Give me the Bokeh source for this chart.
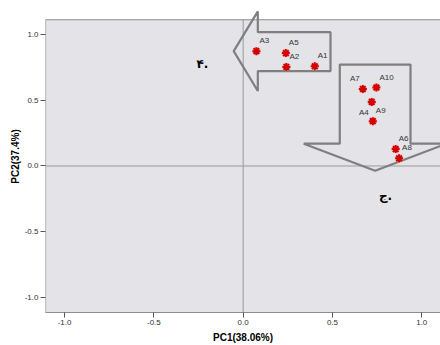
from bokeh.plotting import figure
from bokeh.models import Range1d, FixedTicker, ColumnDataSource
from bokeh.core.properties import value
from bokeh.embed import file_html
from bokeh.resources import INLINE

# ---- data ----
names = ["A1", "A2", "A3", "A4", "A5", "A6", "A7", "A8", "A9", "A10"]
pc1 = [0.401, 0.242, 0.074, 0.720, 0.239, 0.854, 0.670, 0.873, 0.726, 0.746]
pc2 = [0.756, 0.751, 0.871, 0.486, 0.856, 0.128, 0.584, 0.058, 0.340, 0.595]

ticks = [-1.0, -0.5, 0.0, 0.5, 1.0]
tick_labels = {-1.0: "-1.0", -0.5: "-0.5", 0.0: "0.0", 0.5: "0.5", 1.0: "1.0"}

# arrow outlines (data coordinates)
arrow1_x = [-0.053, 0.082, 0.082, 0.489, 0.489, 0.082, 0.082]
arrow1_y = [0.871, 1.172, 1.015, 1.015, 0.720, 0.720, 0.569]
arrow2_x = [0.541, 0.937, 0.937, 1.138, 0.739, 0.339, 0.541]
arrow2_y = [0.769, 0.769, 0.169, 0.169, -0.036, 0.169, 0.169]

group_text = ["۴.", "ج."]
group_x = [-0.228, 0.797]
group_y = [0.771, -0.227]

# ---- plot ----
X0, X1 = -1.107, 1.105
Y0, Y1 = -1.111, 1.109

p = figure(width=440, height=345, output_backend="svg", toolbar_location=None,
           x_range=Range1d(X0, X1), y_range=Range1d(Y0, 1.255),
           min_border_left=45, min_border_right=0, min_border_top=0,
           min_border_bottom=32)
p.background_fill_color = "white"
p.border_fill_color = "white"
p.outline_line_color = None
p.grid.visible = False

# plot area background
p.quad(left=X0, right=X1 + 0.2, bottom=Y0 - 0.2, top=Y1,
       fill_color="#e3e3e8", line_color=None)
# zero reference lines
p.segment(x0=[X0, 0], y0=[0, Y0 - 0.2], x1=[X1 + 0.2, 0], y1=[0, Y1],
          line_color="#9a9a9a", line_width=1)
# frame border (left, top)
p.segment(x0=[X0, X0], y0=[Y0, Y1], x1=[X0, X1 + 0.2], y1=[Y1, Y1],
          line_color="#8c8c8c", line_width=1.2)

# arrows
p.patch(arrow1_x, arrow1_y, fill_color=None, line_color="#7f7f7f", line_width=2.2)
p.patch(arrow2_x, arrow2_y, fill_color=None, line_color="#7f7f7f", line_width=2.2)

# points
src = ColumnDataSource(dict(x=pc1, y=pc2, name=names))
p.scatter("x", "y", source=src, marker="circle", size=9, fill_color="#f4a0a8",
          fill_alpha=0.35, line_color=None)
p.scatter("x", "y", source=src, marker="asterisk", size=8, line_color="#d40000",
          line_width=2)

# labels
left_side = {"A7", "A4"}
below = {"A4"}
aligns = ["right" if n in left_side else "left" for n in names]
xo = [-3 if n in left_side else 3 for n in names]
yo = [6 if n in below else -6 for n in names]
base = ["top" if n in below else "bottom" for n in names]
lsrc = ColumnDataSource(dict(x=pc1, y=pc2, t=names, a=aligns, xo=xo, yo=yo, b=base))
p.text("x", "y", text="t", source=lsrc, text_align="a", text_baseline="b",
       x_offset="xo", y_offset="yo", text_font=value("Liberation Sans"),
       text_font_size="8px", text_color="#333333")

p.text(group_x, group_y, text=group_text, text_align="center", text_baseline="middle",
       text_font=value("DejaVu Sans"), text_font_style="bold",
       text_font_size="12px", text_color="black")

# axes
for ax in (p.xaxis[0], p.yaxis[0]):
    ax.ticker = FixedTicker(ticks=ticks)
    ax.major_label_overrides = tick_labels
    ax.minor_tick_line_color = None
    ax.major_tick_in = 0
    ax.major_tick_out = 5
    ax.major_tick_line_color = "#555555"
    ax.major_label_text_font = "Liberation Sans"
    ax.major_label_text_font_size = "8px"
    ax.major_label_text_color = "#333333"
    ax.major_label_standoff = 2
    ax.axis_label_text_font = "Liberation Sans"
    ax.axis_label_text_font_style = "bold"
    ax.axis_label_text_font_size = "10px"
    ax.axis_label_text_color = "black"
    ax.axis_label_standoff = 4

p.yaxis[0].axis_label_standoff = 1
p.xaxis.axis_label = "PC1(38.06%)"
p.yaxis.axis_label = "PC2(37.4%)"
p.xaxis.axis_line_color = "#8c8c8c"
p.yaxis.axis_line_color = None

open("out.html", "w").write(file_html(p, INLINE))
